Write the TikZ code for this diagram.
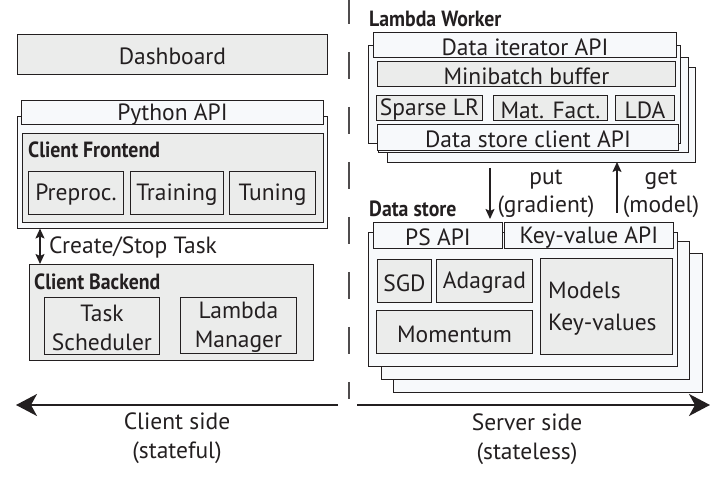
\documentclass[tikz,border=0pt]{standalone}
\usepackage{fontspec}
\setmainfont{PT Sans}
\newfontfamily\boldcond[FakeStretch=0.9]{PT Sans Bold}
\usetikzlibrary{arrows.meta}
\definecolor{ink}{HTML}{231F20}
\definecolor{boxgray}{HTML}{EBECEB}
\definecolor{boxlight}{HTML}{F7F9FB}
\tikzset{
  gbox/.style={draw=ink, line width=0.9pt, fill=boxgray},
  lbox/.style={draw=ink, line width=0.9pt, fill=boxlight},
  frame/.style={draw=ink, line width=0.9pt, fill=boxlight},
  txt/.style={font=\fontsize{23.5}{28.5}\selectfont, text=ink, inner sep=0pt, yshift=-2pt},
  btxt/.style={font=\boldcond\fontsize{22}{24}\selectfont, text=ink, inner sep=0pt, anchor=west},
  bigarrow/.style={draw=ink, line width=2pt, -{Stealth[length=21pt,width=22pt,inset=6pt]}},
  smallarrow/.style={draw=ink, line width=1.6pt, -{Stealth[length=10pt,width=9pt,inset=2pt]}},
}
\begin{document}
\begin{tikzpicture}[x=1pt,y=-1pt]
\useasboundingbox (0,0) rectangle (721,478);
% divider
\draw[draw=ink!80, line width=1.4pt, dash pattern=on 27pt off 28pt, dash phase=3pt] (349,0) -- (349,399);

% ---------- client side ----------
\node[gbox, minimum width=310pt, minimum height=40pt, anchor=north west, inner sep=0pt] (dash) at (17,34) {};
\node[txt] (dasht) at (dash.center) {Dashboard};

\node[frame, minimum width=310pt, minimum height=112pt, anchor=north west] (fe) at (17,116) {};
\node[lbox, minimum width=302pt, minimum height=24pt, anchor=north west] (pyapi) at (21,100) {};
\node[txt] (pyapit) at (pyapi.center) {Python API};
\node[gbox, minimum width=301pt, minimum height=89pt, anchor=north west] (cf) at (22,133) {};
\node[btxt] (cft) at (28,150) {Client Frontend};
\node[gbox, minimum width=95pt, minimum height=43pt, anchor=north west] (pre) at (28,171) {};
\node[txt] at (pre.center) {Preproc.};
\node[gbox, minimum width=93pt, minimum height=43pt, anchor=north west] (trn) at (130,171) {};
\node[txt] at (trn.center) {Training};
\node[gbox, minimum width=86pt, minimum height=43pt, anchor=north west] (tun) at (229,171) {};
\node[txt] at (tun.center) {Tuning};

\node[gbox, minimum width=284pt, minimum height=96pt, anchor=north west] (cb) at (29,264) {};
\node[btxt] (cbt) at (34,282) {Client Backend};
\node[gbox, minimum width=115pt, minimum height=57pt, anchor=north west] (ts) at (44,297) {};
\node[txt, align=center] at (ts.center) {Task\\Scheduler};
\node[gbox, minimum width=116pt, minimum height=56pt, anchor=north west] (lm) at (180,297) {};
\node[txt, align=center] at (lm.center) {Lambda\\Manager};

\coordinate (csA) at (40,228.5);
\coordinate (csB) at (40,264);
\draw[draw=ink, line width=1.6pt, {Stealth[length=10pt,width=9pt,inset=2pt]}-{Stealth[length=10pt,width=9pt,inset=2pt]}] (csA) -- (csB);
\node[txt, anchor=west] (cst) at (49,245) {Create/Stop Task};

% ---------- bottom arrows ----------
\coordinate (cl0) at (338,405);
\coordinate (cl1) at (16,405);
\draw[bigarrow] (cl0) -- (cl1);
\node[txt, align=center] (clt) at (177,436) {Client side\\(stateful)};
\coordinate (sv0) at (357,405);
\coordinate (sv1) at (710,405);
\draw[bigarrow] (sv0) -- (sv1);
\node[txt, align=center] (svt) at (527,437) {Server side\\(stateless)};

% ---------- Lambda worker ----------
\node[btxt] (lwt) at (369,19) {Lambda Worker};
\node[frame, minimum width=308pt, minimum height=95pt, anchor=north west] (lw3) at (387,67) {};
\node[frame, minimum width=310pt, minimum height=95pt, anchor=north west] (lw2) at (378,57) {};
\node[frame, minimum width=312pt, minimum height=98pt, anchor=north west] (lw1) at (368,45) {};
\node[lbox, minimum width=303pt, minimum height=25pt, anchor=north west] (dia) at (373,32) {};
\node[txt] at (dia.center) {Data iterator API};
\node[gbox, minimum width=298pt, minimum height=25pt, anchor=north west] (mb) at (377,61) {};
\node[txt] at (mb.center) {Minibatch buffer};
\node[gbox, minimum width=106pt, minimum height=25pt, anchor=north west] (slr) at (376,95) {};
\node[txt] at (slr.center) {Sparse LR};
\node[gbox, minimum width=114pt, minimum height=25pt, anchor=north west] (mf) at (493,95) {};
\node[txt] at (mf.center) {Mat. Fact.};
\node[gbox, minimum width=59pt, minimum height=25pt, anchor=north west] (lda) at (615,95) {};
\node[txt] at (lda.center) {LDA};
\node[lbox, minimum width=301pt, minimum height=26pt, anchor=north west] (dsc) at (377,124) {};
\node[txt] at (dsc.center) {Data store client API};

% put / get
\coordinate (put0) at (490,168);
\coordinate (put1) at (490,219);
\draw[smallarrow] (put0) -- (put1);
\node[txt, align=center] (putt) at (546,192) {put\\(gradient)};
\coordinate (get0) at (617,213);
\coordinate (get1) at (617,162);
\draw[smallarrow] (get0) -- (get1);
\node[txt, align=center] (gett) at (661,192) {get\\(model)};

% ---------- Data store ----------
\node[btxt] (dst) at (369,209) {Data store};
\node[frame, minimum width=309pt, minimum height=139pt, anchor=north west] (ds3) at (393,253) {};
\node[frame, minimum width=308pt, minimum height=138pt, anchor=north west] (ds2) at (381,241) {};
\node[frame, minimum width=309pt, minimum height=134pt, anchor=north west] (ds1) at (368,232) {};
\node[lbox, minimum width=129pt, minimum height=26pt, anchor=north west] (ps) at (373,222) {};
\node[txt] at (ps.center) {PS API};
\node[lbox, minimum width=169pt, minimum height=26pt, anchor=north west] (kv) at (504,222) {};
\node[txt] at (kv.center) {Key-value API};
\node[gbox, minimum width=54pt, minimum height=43pt, anchor=north west] (sgd) at (377,259) {};
\node[txt] at (sgd.center) {SGD};
\node[gbox, minimum width=96pt, minimum height=43pt, anchor=north west] (ada) at (436,259) {};
\node[txt] at (ada.center) {Adagrad};
\node[gbox, minimum width=156pt, minimum height=43pt, anchor=north west] (mom) at (376,310) {};
\node[txt] at (mom.center) {Momentum};
\node[gbox, minimum width=132pt, minimum height=96pt, anchor=north west] (mod) at (540,258) {};
\node[txt, anchor=west] (modt1) at (548,288) {Models};
\node[txt, anchor=west] (modt2) at (548,323) {Key-values};
\end{tikzpicture}
\end{document}
